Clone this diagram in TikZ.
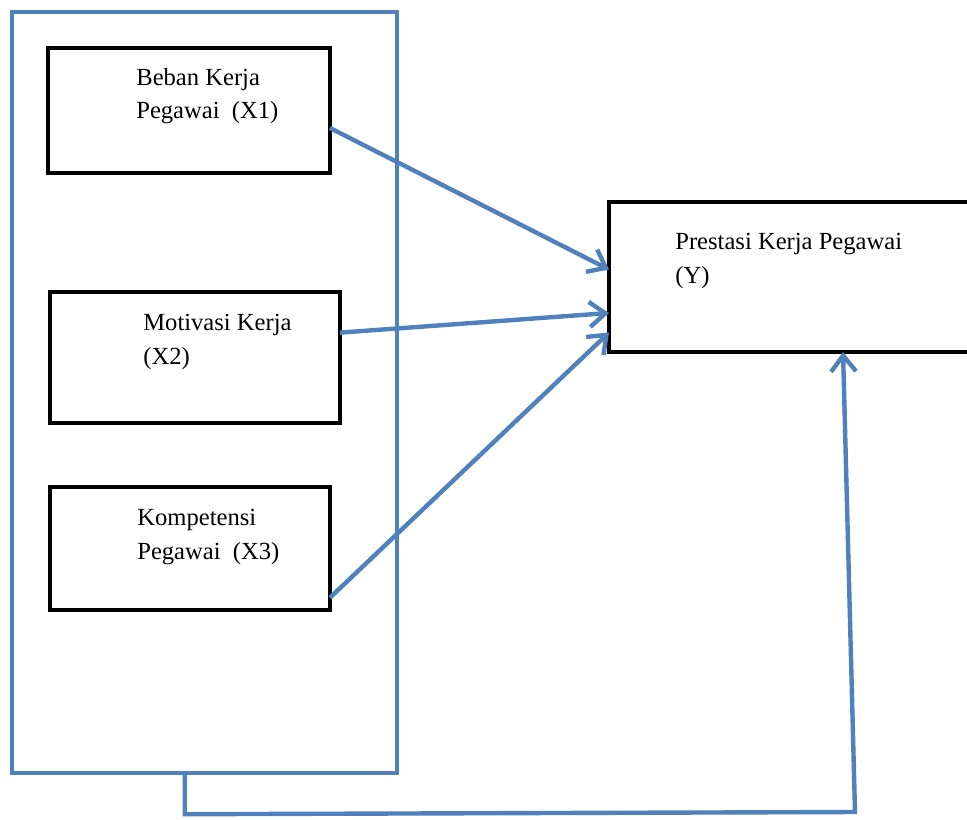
\documentclass[tikz,border=0pt]{standalone}
\usepackage{fontspec}
\setmainfont{Liberation Serif}
\usepackage{tikz}
\usetikzlibrary{arrows.meta, calc}
\definecolor{officeblue}{RGB}{79,129,189}

\begin{document}
\begin{tikzpicture}[x=0.02cm, y=-0.02cm]
\tikzstyle{varbox}=[draw=black, line width=1.8pt, inner sep=0pt, outer sep=0pt]
\tikzstyle{lbl}=[anchor=north west, align=left, inner sep=0pt, font=\fontsize{14}{19}\selectfont]
\tikzstyle{conn}=[draw=officeblue, line width=2.5pt, -{Straight Barb[length=3.2mm, width=5mm, line width=2.5pt]}]
\clip (0,0) rectangle (967,819);
\fill[white] (0,0) rectangle (967,819);
% frame round the three variables
\node[draw=officeblue, line width=2.6pt, inner sep=0pt, minimum width=7.7cm, minimum height=15.22cm] (frame) at (204.5,392.5) {};
\node[varbox, minimum width=5.64cm, minimum height=2.5cm] (x1) at (189,110.5) {};
\node[varbox, minimum width=5.8cm, minimum height=2.62cm] (x2) at (195,357.5) {};
\node[varbox, minimum width=5.6cm, minimum height=2.46cm] (x3) at (190,548.5) {};
\node[varbox, minimum width=8.02cm, minimum height=3cm] (y) at (809.5,277) {};
\node[lbl] (t1) at (136,68) {Beban Kerja\\Pegawai\ \ (X1)};
\node[lbl] (t2) at (143,314) {Motivasi Kerja\\(X2)};
\node[lbl] (t3) at (137,509) {Kompetensi\\Pegawai\ \ (X3)};
\node[lbl] (ty) at (675,233) {Prestasi Kerja Pegawai\\(Y)};
% arrows into Y
\draw[conn] ($(x1.north east)!0.64!(x1.south east)$) -- ($(y.north west)!0.45!(y.south west)$);
\draw[conn] ($(x2.north east)!0.31!(x2.south east)$) -- ($(y.north west)!0.74!(y.south west)$);
\draw[conn] ($(x3.north east)!0.9!(x3.south east)$) -- ($(y.north west)!0.87!(y.south west)$);
\coordinate (turn) at (855,812);
\draw[conn] ($(frame.south west)+(175,0)$) -- ++(0,39) -- (turn) -- ($(y.south west)+(234,0)$);
\end{tikzpicture}
\end{document}
